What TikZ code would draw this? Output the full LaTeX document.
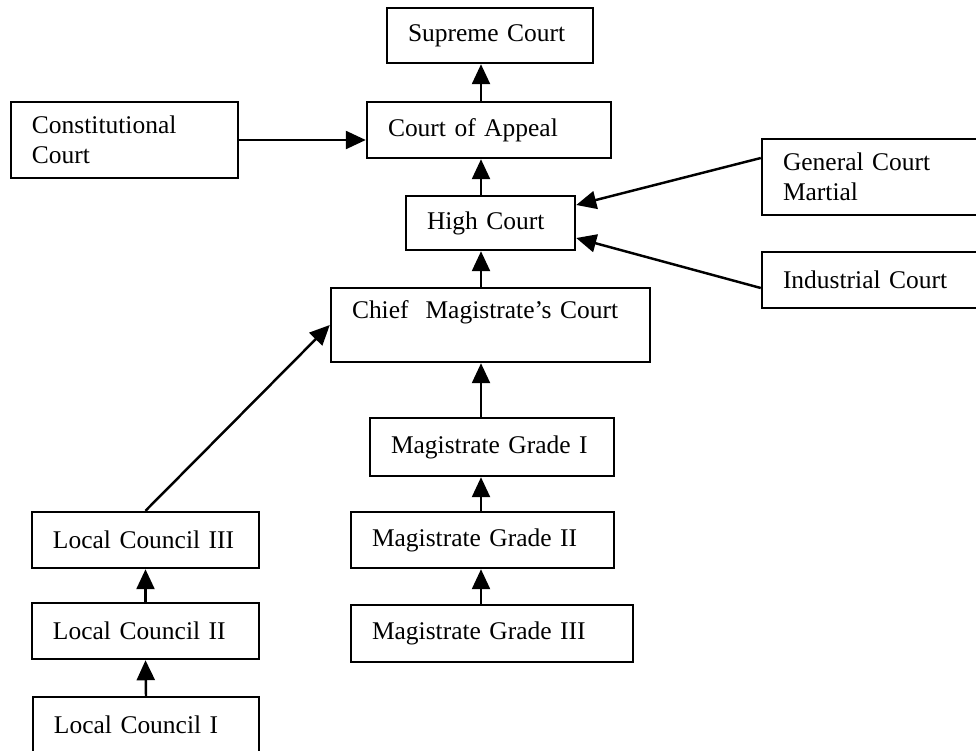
\documentclass[tikz,border=0pt]{standalone}
\usepackage{fontspec}
\setmainfont{Liberation Serif}
\usetikzlibrary{arrows.meta}
\tikzstyle{court} = [rectangle, draw=black, line width=1.4pt, align=left, inner xsep=4.2mm, inner ysep=0pt, font=\fontsize{14.5}{17}\selectfont]
\tikzstyle{arrow} = [line width=1.4pt, -{Triangle[length=4mm,width=3.6mm]}]

\begin{document}
\begin{tikzpicture}[x=0.2mm,y=-0.2mm]
\useasboundingbox (0,0) rectangle (976,750);
\clip (0,0) rectangle (976,750);
\coordinate (spine) at (481,0);

% upper courts
\node[court, text width=32.8mm, minimum height=11mm] (sc) at (490,35.5) {Supreme Court};
\node[court, text width=40.4mm, minimum height=11.2mm] (ca) at (489,130) {Court of Appeal};
\node[court, text width=37mm, minimum height=15.2mm] (cc) at (124.5,140) {Constitutional\\Court};
\node[court, text width=25.4mm, minimum height=10.8mm] (hc) at (490.5,223) {High Court};
\node[court, text width=37.2mm, minimum height=15.2mm] (gcm) at (876,177) {General Court\\Martial};
\node[court, text width=37.2mm, minimum height=11.2mm] (ind) at (876,280) {Industrial Court};
\node[court, text width=55.4mm, minimum height=14.8mm] (chief) at (490.5,325) {Chief\ \ Magistrate's Court\\[1pt]~};

% magistrates
\node[court, text width=40.4mm, minimum height=11.6mm] (g1) at (492,447) {Magistrate Grade I};
\node[court, text width=44.2mm, minimum height=11.2mm] (g2) at (482.5,540) {Magistrate Grade II};
\node[court, text width=48mm, minimum height=11.4mm] (g3) at (492,633.5) {Magistrate Grade III};

% local councils
\node[court, text width=37mm, minimum height=11.2mm] (lc3) at (145.5,540) {Local Council III};
\node[court, text width=37mm, minimum height=11.2mm] (lc2) at (145.5,631) {Local Council II};
\node[court, text width=36.8mm, minimum height=11.2mm] (lc1) at (146,725) {Local Council I};

\draw[arrow] (ca.north -| spine) -- (sc.south -| spine);
\draw[arrow] (hc.north -| spine) -- (ca.south -| spine);
\draw[arrow] (chief.north -| spine) -- (hc.south -| spine);
\draw[arrow] (g1.north -| spine) -- (chief.south -| spine);
\draw[arrow] (g2.north -| spine) -- (g1.south -| spine);
\draw[arrow] (g3.north -| spine) -- (g2.south -| spine);
\draw[arrow] (lc1.north) -- (lc2.south);
\draw[arrow] (lc2.north) -- (lc3.south);
\draw[arrow] (lc3.north) -- (chief.west);
\draw[arrow] (cc.east) -- (cc.east -| ca.west);
\draw[arrow] ([yshift=3.8mm]gcm.west) -- ([yshift=3.6mm]hc.east);
\draw[arrow] ([yshift=-1.6mm]ind.west) -- ([yshift=-3mm]hc.east);
\end{tikzpicture}
\end{document}
